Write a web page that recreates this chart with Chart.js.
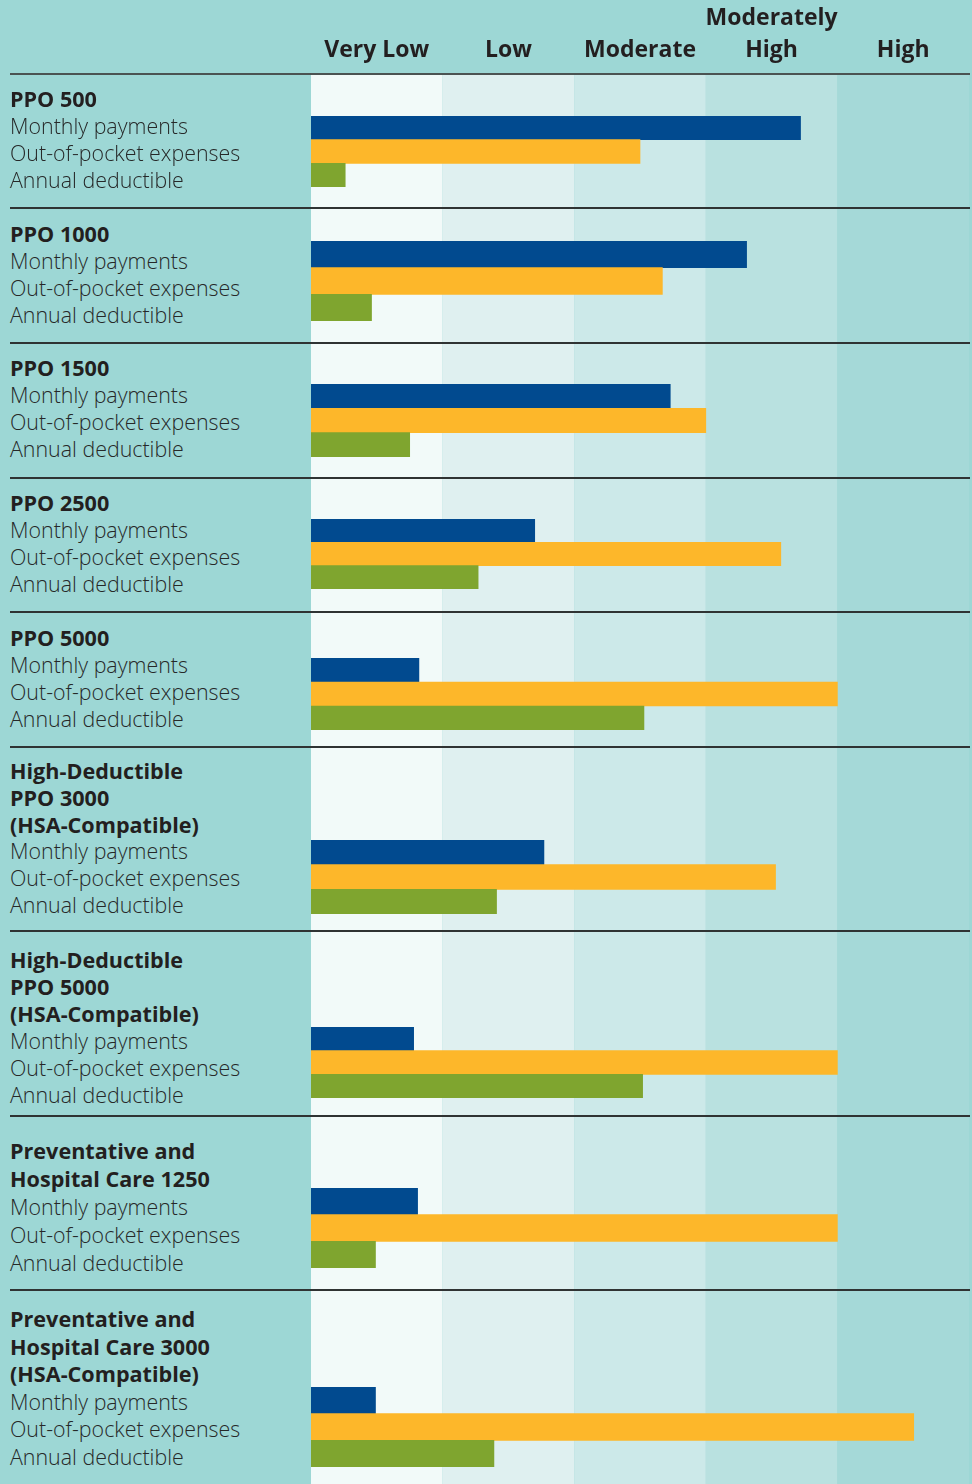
<!DOCTYPE html>
<html>
<head>
<meta charset="utf-8">
<script src="https://cdn.jsdelivr.net/npm/chart.js@4.4.1/dist/chart.umd.min.js"></script>
<style>
  html, body { margin: 0; padding: 0; }
  body {
    width: 972px; height: 1484px; overflow: hidden; position: relative;
    background: #9dd7d5; font-family: "Open Sans", sans-serif;
  }
  canvas { position: absolute; left: 311px; }
  .rule { position: absolute; left: 10px; width: 960px; height: 2px; background: #2f3333; z-index: 2; }
  .rule.head { background: #4b5352; }
  .labels { position: absolute; left: 10px; width: 300px; font-size: 21.4px; font-weight: 300; color: #262828; white-space: nowrap; }
  .labels .title { font-weight: 700; font-size: 21.6px; color: #231f20; }
</style>
</head>
<body>
<script>
// rating levels along the x axis (tick labels)
const levels = ['Very Low', 'Low', 'Moderate', ['Moderately', 'High'], 'High'];
const metrics = ['Monthly payments', 'Out-of-pocket expenses', 'Annual deductible'];

// plan names, one entry per line of the title
const plans = [
    ['PPO 500'],
    ['PPO 1000'],
    ['PPO 1500'],
    ['PPO 2500'],
    ['PPO 5000'],
    ['High-Deductible', 'PPO 3000', '(HSA-Compatible)'],
    ['High-Deductible', 'PPO 5000', '(HSA-Compatible)'],
    ['Preventative and', 'Hospital Care 1250'],
    ['Preventative and', 'Hospital Care 3000', '(HSA-Compatible)']
];

// bar lengths, in level units (0 = start of Very Low, 5 = end of High)
const monthlyPayments = [3.72, 3.31, 2.73, 1.70, 0.82, 1.77, 0.78, 0.81, 0.49];
const outOfPocket = [2.50, 2.67, 3.00, 3.57, 4.00, 3.53, 4.00, 4.00, 4.58];
const annualDeductible = [0.26, 0.46, 0.75, 1.27, 2.53, 1.41, 2.52, 0.49, 1.39];

const seriesColors = ['#014a8f', '#fdb72a', '#7fa52f'];
const bandColors = ['#f2faf9', '#dff0f0', '#cce9e9', '#b9e1e0', '#a5d9d8'];

// page layout: rule above each group, top of text block, bar block top/bottom
const groupLayout = [
    { rule: 74, text: 85, lead: 27, barTop: 116, barBottom: 187 },
    { rule: 208, text: 220, lead: 27, barTop: 241, barBottom: 321 },
    { rule: 343, text: 354, lead: 27, barTop: 384, barBottom: 457 },
    { rule: 478, text: 489, lead: 27, barTop: 519, barBottom: 589 },
    { rule: 612, text: 624, lead: 27, barTop: 658, barBottom: 730 },
    { rule: 747, text: 758, lead: 26.8, barTop: 840, barBottom: 914 },
    { rule: 931, text: 946, lead: 27, barTop: 1027, barBottom: 1098 },
    { rule: 1116, text: 1137, lead: 28, barTop: 1188, barBottom: 1268 },
    { rule: 1290, text: 1305, lead: 27.6, barTop: 1387, barBottom: 1467 }
];
const pageBottom = 1484;
const chartWidth = 658;
const fontFamily = '"Open Sans", sans-serif';

const bandPlugin = {
    id: 'bands',
    beforeDraw(chart) {
        const ctx = chart.ctx;
        const x = chart.scales.x;
        ctx.save();
        bandColors.forEach((color, i) => {
            const x0 = x.getPixelForValue(i);
            const x1 = x.getPixelForValue(i + 1);
            ctx.fillStyle = color;
            ctx.fillRect(x0, 0, x1 - x0, chart.height);
        });
        ctx.restore();
    }
};

function addCanvas(top, height) {
    const canvas = document.createElement('canvas');
    canvas.width = chartWidth;
    canvas.height = height;
    canvas.style.top = top + 'px';
    canvas.style.width = chartWidth + 'px';
    canvas.style.height = height + 'px';
    document.body.appendChild(canvas);
    return canvas;
}

function addRule(y, cls) {
    const rule = document.createElement('div');
    rule.className = 'rule' + (cls ? ' ' + cls : '');
    rule.style.top = (y - 1) + 'px';
    document.body.appendChild(rule);
}

function renderHeader() {
    // taller than the header strip so the axis is not squeezed; the group charts paint over the rest
    const canvas = addCanvas(0, 200);
    new Chart(canvas.getContext('2d'), {
        type: 'bar',
        data: { labels: levels, datasets: [] },
        options: {
            responsive: false,
            animation: false,
            layout: { padding: { top: 2, left: 0, right: 0, bottom: 0 } },
            plugins: { legend: { display: false }, tooltip: { enabled: false } },
            scales: {
                x: {
                    position: 'top',
                    grid: { display: false, drawTicks: false },
                    border: { display: false },
                    ticks: {
                        color: '#231f20',
                        padding: 0,
                        maxRotation: 0,
                        autoSkip: false,
                        font: { family: fontFamily, size: 23, weight: 'bold', lineHeight: 32 / 23 }
                    }
                },
                y: { display: false }
            }
        }
    });
}

function renderGroup(i) {
    const g = groupLayout[i];
    const bottom = i + 1 < groupLayout.length ? groupLayout[i + 1].rule : pageBottom;
    const canvas = addCanvas(g.rule, bottom - g.rule);

    new Chart(canvas.getContext('2d'), {
        type: 'bar',
        data: {
            labels: metrics,
            datasets: [{
                data: [monthlyPayments[i], outOfPocket[i], annualDeductible[i]],
                backgroundColor: seriesColors,
                barPercentage: 1,
                categoryPercentage: 1
            }]
        },
        options: {
            indexAxis: 'y',
            responsive: false,
            animation: false,
            layout: { padding: { top: g.barTop - g.rule, bottom: bottom - g.barBottom, left: 0, right: 0 } },
            plugins: { legend: { display: false }, tooltip: { enabled: false } },
            scales: {
                x: { type: 'linear', min: 0, max: levels.length, display: false },
                y: { display: false }
            }
        },
        plugins: [bandPlugin]
    });

    const labels = document.createElement('div');
    labels.className = 'labels';
    labels.style.top = g.text + 'px';
    labels.style.lineHeight = g.lead + 'px';
    plans[i].forEach(line => {
        const el = document.createElement('div');
        el.className = 'title';
        el.textContent = line;
        labels.appendChild(el);
    });
    metrics.forEach(name => {
        const el = document.createElement('div');
        el.textContent = name;
        labels.appendChild(el);
    });
    document.body.appendChild(labels);

    if (i > 0) addRule(g.rule);
}

renderHeader();
plans.forEach((_, i) => renderGroup(i));
addRule(groupLayout[0].rule, 'head');
</script>
</body>
</html>
